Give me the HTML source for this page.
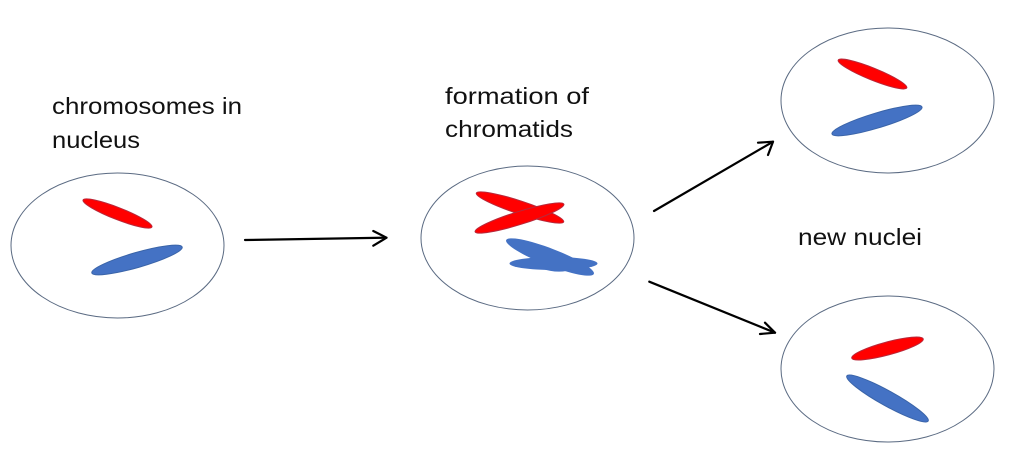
<!DOCTYPE html>
<html>
<head>
<meta charset="utf-8">
<style>
  html,body{margin:0;padding:0;background:#fff;}
  svg{display:block;}
  text{font-family:"Liberation Sans",sans-serif;font-size:23px;fill:#111;}
</style>
</head>
<body>
<svg width="1024" height="461" viewBox="0 0 1024 461" xmlns="http://www.w3.org/2000/svg">
  <rect width="1024" height="461" fill="#fff"/>

  <!-- Labels -->
  <text x="52" y="114" textLength="190" lengthAdjust="spacingAndGlyphs">chromosomes in</text>
  <text x="52" y="148" textLength="88" lengthAdjust="spacingAndGlyphs">nucleus</text>
  <text x="445" y="104" textLength="144" lengthAdjust="spacingAndGlyphs">formation of</text>
  <text x="445" y="137" textLength="128" lengthAdjust="spacingAndGlyphs">chromatids</text>
  <text x="798" y="245" textLength="124" lengthAdjust="spacingAndGlyphs">new nuclei</text>

  <!-- Nucleus 1 -->
  <ellipse cx="117.5" cy="245.5" rx="106.5" ry="72.5" fill="#fff" stroke="#5a6a82" stroke-width="1"/>
  <ellipse cx="117.5" cy="213.5" rx="37" ry="6" transform="rotate(21.4 117.5 213.5)" fill="#ff0000" stroke="#b8283a" stroke-width="1"/>
  <ellipse cx="137" cy="260" rx="47" ry="7.5" transform="rotate(-16 137 260)" fill="#4472c4" stroke="#3a64a8" stroke-width="1"/>

  <!-- Nucleus 2 -->
  <ellipse cx="527.5" cy="238" rx="106.5" ry="72" fill="#fff" stroke="#5a6a82" stroke-width="1"/>
  <ellipse cx="520" cy="207.5" rx="46" ry="6.5" transform="rotate(18.2 520 207.5)" fill="#ff0000" stroke="#b8283a" stroke-width="1"/>
  <ellipse cx="519.5" cy="218" rx="46.5" ry="6.5" transform="rotate(-17.3 519.5 218)" fill="#ff0000" stroke="#b8283a" stroke-width="1"/>
  <ellipse cx="550" cy="257" rx="47" ry="8.5" transform="rotate(21.1 550 257)" fill="#4472c4"/>
  <ellipse cx="553.5" cy="263.5" rx="44" ry="6.5" fill="#4472c4"/>
  <ellipse cx="552" cy="262" rx="22" ry="9" transform="rotate(10 552 262)" fill="#4472c4"/>

  <!-- Nucleus 3 (top right) -->
  <ellipse cx="887.5" cy="100.5" rx="106.5" ry="72.5" fill="#fff" stroke="#5a6a82" stroke-width="1"/>
  <ellipse cx="872.5" cy="74" rx="37" ry="6" transform="rotate(22 872.5 74)" fill="#ff0000" stroke="#b8283a" stroke-width="1"/>
  <ellipse cx="877" cy="120.5" rx="47" ry="7.5" transform="rotate(-16.7 877 120.5)" fill="#4472c4" stroke="#3a64a8" stroke-width="1"/>

  <!-- Nucleus 4 (bottom right) -->
  <ellipse cx="887.5" cy="369" rx="106.5" ry="73" fill="#fff" stroke="#5a6a82" stroke-width="1"/>
  <ellipse cx="887.5" cy="348.5" rx="37" ry="6.5" transform="rotate(-15 887.5 348.5)" fill="#ff0000" stroke="#b8283a" stroke-width="1"/>
  <ellipse cx="887.5" cy="398.5" rx="46.5" ry="7.5" transform="rotate(29 887.5 398.5)" fill="#4472c4" stroke="#3a64a8" stroke-width="1"/>

  <!-- Arrows -->
  <g stroke="#000" stroke-width="2.2" fill="none" stroke-linecap="round" stroke-linejoin="round">
    <line x1="245" y1="240" x2="386.5" y2="237.7"/>
    <polyline points="373.3,231 386.5,237.7 373.3,245.7"/>

    <line x1="654" y1="211" x2="773" y2="141.7"/>
    <polyline points="758,142.7 773,141.7 768,155"/>

    <line x1="649.3" y1="281.7" x2="775" y2="332.7"/>
    <polyline points="765,322.7 775,332.7 760,334"/>
  </g>
</svg>
</body>
</html>
